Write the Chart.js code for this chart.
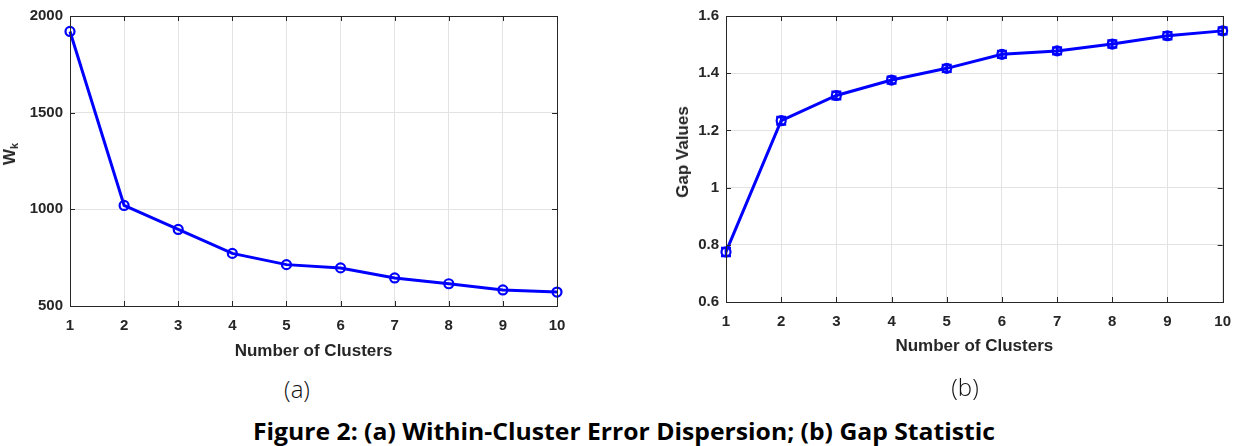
<!DOCTYPE html>
<html>
<head>
<meta charset="utf-8">
<script src="https://cdn.jsdelivr.net/npm/chart.js@4.4.1/dist/chart.umd.min.js"></script>
<style>
  html, body { margin: 0; padding: 0; background: #fff; }
  body { width: 1242px; height: 446px; position: relative; overflow: hidden; font-family: "Liberation Sans", Arial, sans-serif; }
  .wrap { position: absolute; top: 0; }
  .ytitle { position: absolute; font-family: "Liberation Sans", Arial, sans-serif; font-weight: bold; font-size: 17px; color: #262626; white-space: nowrap; transform: translate(-50%, -50%) rotate(-90deg); }
  .ytitle sub { font-size: 11px; vertical-align: -3px; }
  .sub { position: absolute; font-family: "Open Sans", "DejaVu Sans", sans-serif; font-weight: 300; font-size: 24px; color: #111; transform: translate(-50%, -50%); white-space: nowrap; }
  #caption { position: absolute; left: 624px; top: 430px; font-family: "Open Sans", "DejaVu Sans", sans-serif; font-weight: bold; font-size: 24px; color: #000; white-space: nowrap; transform-origin: center center; }
</style>
</head>
<body>
<div class="wrap" style="left:0px;"><canvas id="cA" width="600" height="370"></canvas></div>
<div class="wrap" style="left:600px;"><canvas id="cB" width="642" height="370"></canvas></div>
<div class="ytitle" style="left:10px; top:154px;">W<sub>k</sub></div>
<div class="ytitle" style="left:683px; top:152px;">Gap Values</div>
<div class="sub" style="left:297px; top:388px;">(a)</div>
<div class="sub" style="left:965px; top:386px;">(b)</div>
<div id="caption">Figure 2: (a) Within-Cluster Error Dispersion; (b) Gap Statistic</div>
<script>
// ---- data ----
const clusters = [1, 2, 3, 4, 5, 6, 7, 8, 9, 10];
const wkValues = [1920, 1020, 896, 772, 714, 697, 645, 615, 583, 572];
const gapValues = [0.775, 1.234, 1.322, 1.376, 1.417, 1.466, 1.478, 1.502, 1.531, 1.548];
const gapErr = [0.014, 0.013, 0.013, 0.012, 0.012, 0.012, 0.012, 0.012, 0.012, 0.012];
const xTicks = [1, 2, 3, 4, 5, 6, 7, 8, 9, 10];
const yTicksA = [500, 1000, 1500, 2000];
const yTicksB = [0.6, 0.8, 1, 1.2, 1.4, 1.6];
const xTitle = 'Number of Clusters';

const BLUE = '#0000ff';
const AXIS = '#262626';
const GRID = '#e3e3e3';
const tickFont = { family: '"Liberation Sans", Arial, sans-serif', size: 15, weight: 'bold' };
const titleFont = { family: '"Liberation Sans", Arial, sans-serif', size: 17, weight: 'bold' };

// Box frame + inner ticks (MATLAB style)
const framePlugin = {
  id: 'frame',
  afterDraw(chart) {
    const { ctx, chartArea: a, scales } = chart;
    ctx.save();
    ctx.strokeStyle = AXIS;
    ctx.lineWidth = 1;
    const L = 5;
    ctx.beginPath();
    scales.x.ticks.forEach(t => {
      const px = Math.round(scales.x.getPixelForValue(t.value)) + 0.5;
      ctx.moveTo(px, a.bottom); ctx.lineTo(px, a.bottom - L);
      ctx.moveTo(px, a.top); ctx.lineTo(px, a.top + L);
    });
    scales.y.ticks.forEach(t => {
      const py = Math.round(scales.y.getPixelForValue(t.value)) + 0.5;
      ctx.moveTo(a.left, py); ctx.lineTo(a.left + L, py);
      ctx.moveTo(a.right, py); ctx.lineTo(a.right - L, py);
    });
    ctx.stroke();
    ctx.strokeRect(Math.round(a.left) + 0.5, Math.round(a.top) + 0.5, Math.round(a.right - a.left), Math.round(a.bottom - a.top));
    ctx.restore();
  }
};

// Error bars for the gap statistic
const errPlugin = {
  id: 'errbars',
  afterDatasetsDraw(chart, args, opts) {
    if (!opts || !opts.errors) return;
    const { ctx, scales } = chart;
    const meta = chart.getDatasetMeta(0);
    ctx.save();
    ctx.strokeStyle = BLUE;
    ctx.lineWidth = 2.5;
    const cap = 5;
    meta.data.forEach((pt, i) => {
      const v = chart.data.datasets[0].data[i].y;
      const e = opts.errors[i];
      const yTop = scales.y.getPixelForValue(v + e);
      const yBot = scales.y.getPixelForValue(v - e);
      ctx.beginPath();
      ctx.moveTo(pt.x, yTop); ctx.lineTo(pt.x, yBot);
      ctx.moveTo(pt.x - cap, yTop); ctx.lineTo(pt.x + cap, yTop);
      ctx.moveTo(pt.x - cap, yBot); ctx.lineTo(pt.x + cap, yBot);
      ctx.stroke();
    });
    ctx.restore();
  }
};

function makeChart(id, values, yTicks, yMin, yMax, cfg) {
  return new Chart(document.getElementById(id), {
    type: 'line',
    data: {
      datasets: [{
        data: clusters.map((c, i) => ({ x: c, y: values[i] })),
        borderColor: BLUE,
        borderWidth: 3,
        pointRadius: 4.5,
        pointBorderWidth: 2.2,
        pointBorderColor: BLUE,
        pointBackgroundColor: 'rgba(0,0,0,0)',
        pointHoverRadius: 4.5,
        tension: 0,
        clip: false
      }]
    },
    options: {
      responsive: false,
      devicePixelRatio: 1,
      animation: false,
      events: [],
      layout: { padding: cfg.padding },
      plugins: {
        legend: { display: false },
        tooltip: { enabled: false },
        errbars: { errors: cfg.errors || null }
      },
      scales: {
        x: {
          type: 'linear',
          min: 1, max: 10,
          afterBuildTicks(s) { s.ticks = xTicks.map(v => ({ value: v })); },
          afterFit(s) { s.height = cfg.xHeight; },
          ticks: { font: tickFont, color: AXIS, padding: 11, maxRotation: 0, callback: v => String(v) },
          grid: { color: GRID, drawTicks: false, lineWidth: 1 },
          border: { display: false },
          title: { display: true, text: xTitle, font: titleFont, color: AXIS, padding: { top: 0, bottom: cfg.xTitlePad } }
        },
        y: {
          type: 'linear',
          min: yMin, max: yMax,
          afterBuildTicks(s) { s.ticks = yTicks.map(v => ({ value: v })); },
          afterFit(s) { s.width = cfg.yWidth; },
          ticks: { font: tickFont, color: AXIS, padding: 7, callback: v => String(v) },
          grid: { color: GRID, drawTicks: false, lineWidth: 1 },
          border: { display: false }
        }
      }
    },
    plugins: [framePlugin, errPlugin]
  });
}

makeChart('cA', wkValues, yTicksA, 500, 2000, {
  padding: { left: 0, right: 43, top: 8, bottom: 0 },
  xHeight: 64, yWidth: 70, xTitlePad: 8
});
makeChart('cB', gapValues, yTicksB, 0.6, 1.6, {
  padding: { left: 0, right: 9, top: 7, bottom: 0 },
  xHeight: 68, yWidth: 126, xTitlePad: 13, errors: gapErr
});

// fit caption width to reference (~742px)
const cap = document.getElementById('caption');
const w = cap.getBoundingClientRect().width;
const sx = 742 / w;
cap.style.transform = `translate(-50%, -50%) scaleX(${sx})`;
</script>
</body>
</html>
